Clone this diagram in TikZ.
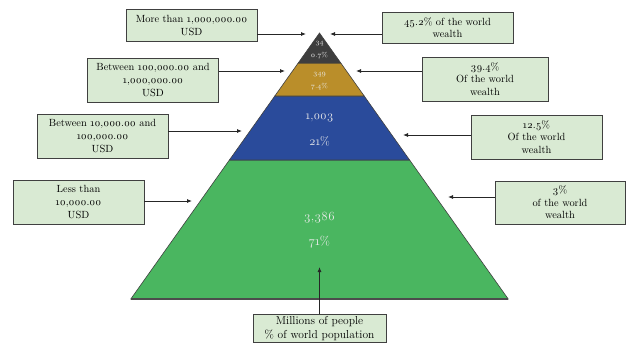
\documentclass[tikz,border=0pt]{standalone}
\usepackage{fontspec}
\setmainfont{Latin Modern Roman}[Numbers=OldStyle]
\usetikzlibrary{arrows.meta}
\definecolor{boxfill}{RGB}{217,234,211}
\definecolor{boxline}{RGB}{64,64,64}
\definecolor{topband}{RGB}{62,62,62}
\definecolor{goldband}{RGB}{186,142,42}
\definecolor{blueband}{RGB}{42,75,155}
\definecolor{greenband}{RGB}{74,182,96}
\tikzset{
  wealthbox/.style={draw=boxline, line width=0.9pt, fill=boxfill, align=center,
    inner sep=0pt, font=\fontsize{10.4}{12.6}\selectfont},
  pointer/.style={-{Latex[length=5pt,width=4pt]}, line width=0.8pt, color=black!85},
  band/.style={draw=black!75, line width=0.6pt},
  bandtext/.style={text=white!92!black, inner sep=0pt}
}

\begin{document}
\begin{tikzpicture}[x=1pt,y=-1pt]
			%%%%% START %%%%%
			\useasboundingbox (0,0) rectangle (626,343);
			
			\draw[band, fill=greenband] (229.4,160) -- (409.6,160) -- (508.2,299) -- (130.8,299) -- cycle;
			\draw[band, fill=blueband] (274.8,96) -- (364.2,96) -- (409.6,160) -- (229.4,160) -- cycle;
			\draw[band, fill=goldband] (298.2,63) -- (340.8,63) -- (364.2,96) -- (274.8,96) -- cycle;
			\draw[band, fill=topband] (319.5,33) -- (340.8,63) -- (298.2,63) -- cycle;
			\draw[line width=1.2pt, color=black!70] (130.8,299) -- (508.2,299);
			
			\node[bandtext, font=\fontsize{7}{8}\selectfont] (topnum) at (319.5,44) {34};
			\node[bandtext, font=\fontsize{7}{8}\selectfont] (toppct) at (319.5,55.5) {0.7\%};
			\node[bandtext, font=\fontsize{7}{8}\selectfont] (goldnum) at (319.5,74.5) {349};
			\node[bandtext, font=\fontsize{7}{8}\selectfont] (goldpct) at (319.5,87) {7.4\%};
			\node[bandtext, font=\fontsize{12}{14}\selectfont] (bluenum) at (319.5,118) {1,003};
			\node[bandtext, font=\fontsize{12}{14}\selectfont] (bluepct) at (319.5,141) {21\%};
			\node[bandtext, font=\fontsize{12.5}{14}\selectfont] (greennum) at (319.5,218) {3,386};
			\node[bandtext, font=\fontsize{12.5}{14}\selectfont] (greenpct) at (319.5,242) {71\%};
			
			\node[wealthbox, minimum width=131pt, minimum height=32pt] (rich) at (191.5,25.5) {More than 1,000,000.00\\USD};
			\node[wealthbox, minimum width=131pt, minimum height=31pt] (richshare) at (447.5,27.5) {45.2\% of the world\\wealth};
			\node[wealthbox, minimum width=131pt, minimum height=44pt] (upper) at (153,80) {Between 100,000.00 and\\1,000,000.00\\USD};
			\node[wealthbox, minimum width=126pt, minimum height=44pt] (uppershare) at (485,79) {39.4\%\\Of the world\\wealth};
			\node[wealthbox, minimum width=131pt, minimum height=44pt] (middle) at (102.5,136) {Between 10,000.00 and\\100,000.00\\USD};
			\node[wealthbox, minimum width=131pt, minimum height=44pt] (middleshare) at (536.5,137) {12.5\%\\Of the world\\wealth};
			\node[wealthbox, minimum width=131pt, minimum height=44pt] (lower) at (78.5,202) {Less than\\10,000.00\\USD};
			\node[wealthbox, minimum width=130pt, minimum height=43pt] (lowershare) at (560,202.5) {3\%\\of the world\\wealth};
			\node[wealthbox, minimum width=133pt, minimum height=28pt, font=\fontsize{11.5}{13.5}\selectfont] (legend) at (319.5,328.5) {Millions of people\\\% of world population};
			
			\coordinate (tiprich) at (306,34);
			\coordinate (tiprichshare) at (330,34);
			\coordinate (tipupper) at (285,71);
			\coordinate (tipuppershare) at (356,71);
			\coordinate (tipmiddle) at (242,131);
			\coordinate (tipmiddleshare) at (403,135);
			\coordinate (tiplower) at (192,201);
			\coordinate (tiplowershare) at (448,197);
			\coordinate (tiplegend) at (319.5,267);
			
			\draw[pointer] (tiprich -| rich.east) -- (tiprich);
			\draw[pointer] (tiprichshare -| richshare.west) -- (tiprichshare);
			\draw[pointer] (tipupper -| upper.east) -- (tipupper);
			\draw[pointer] (tipuppershare -| uppershare.west) -- (tipuppershare);
			\draw[pointer] (tipmiddle -| middle.east) -- (tipmiddle);
			\draw[pointer] (tipmiddleshare -| middleshare.west) -- (tipmiddleshare);
			\draw[pointer] (tiplower -| lower.east) -- (tiplower);
			\draw[pointer] (tiplowershare -| lowershare.west) -- (tiplowershare);
			\draw[pointer] (legend.north) -- (tiplegend);
			
			%%%%% END %%%%%
\end{tikzpicture}
\end{document}
